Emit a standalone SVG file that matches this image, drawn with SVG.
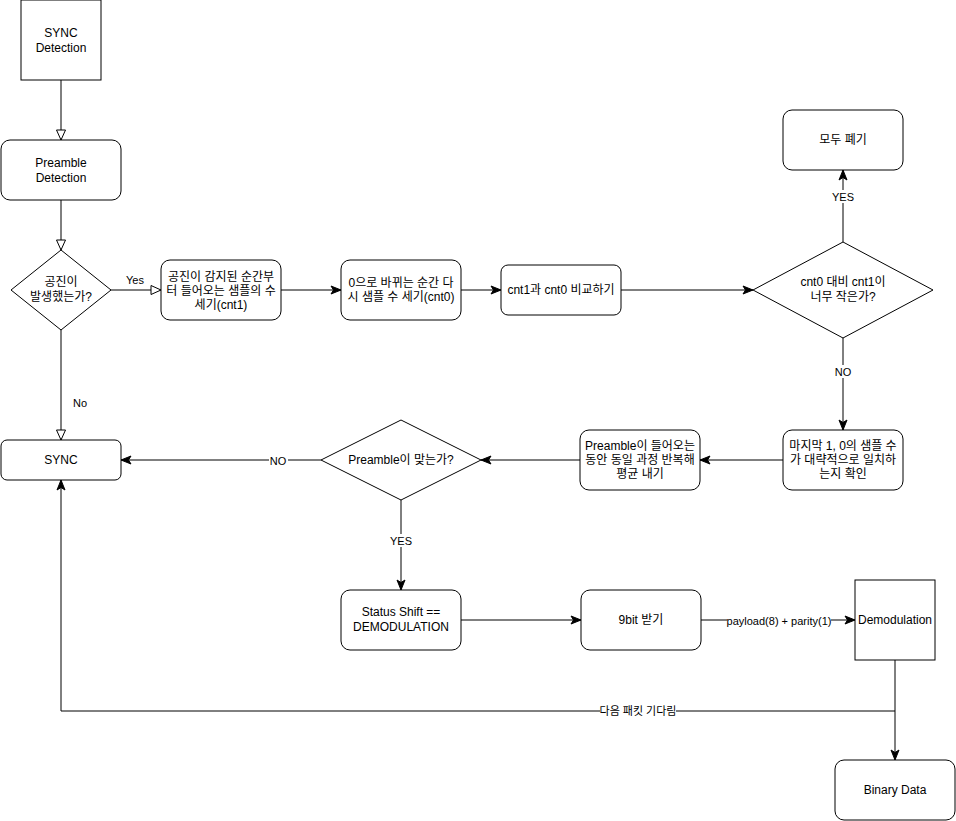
<svg xmlns="http://www.w3.org/2000/svg" width="956" height="821" viewBox="0 0 956 821">
<style>
.n{fill:#fff;stroke:#000;stroke-width:1}
.t{font-family:"Liberation Sans","Noto Sans CJK KR",sans-serif;font-size:12px;fill:#000;text-anchor:middle}
.l{font-family:"Liberation Sans","Noto Sans CJK KR",sans-serif;font-size:11px;fill:#000;text-anchor:middle}
.e{fill:none;stroke:#000;stroke-width:1}
.lb{fill:#fff}
</style>
<defs>
<marker id="open" markerUnits="userSpaceOnUse" markerWidth="12" markerHeight="12" viewBox="0 0 12 12" refX="11" refY="6" orient="auto">
<path d="M1,1.5 L11,6 L1,10.5 Z" fill="#fff" stroke="#000" stroke-width="1"/>
</marker>
<marker id="fill" markerUnits="userSpaceOnUse" markerWidth="12" markerHeight="12" viewBox="0 0 12 12" refX="11" refY="6" orient="auto">
<path d="M1,2 L11,6 L1,10 L3.5,6 Z" fill="#000" stroke="#000" stroke-width="1"/>
</marker>
</defs>
<rect width="956" height="821" fill="#fff"/>
<g id="connectors">
<path class="e" d="M61,80 V140" marker-end="url(#open)"/>
<path class="e" d="M61,200 V250" marker-end="url(#open)"/>
<path class="e" d="M111,290 H161" marker-end="url(#open)"/>
<path class="e" d="M61,330 V440" marker-end="url(#open)"/>
<path class="e" d="M281,290 H341" marker-end="url(#fill)"/>
<path class="e" d="M461,290 H501" marker-end="url(#fill)"/>
<path class="e" d="M621,290 H753" marker-end="url(#fill)"/>
<path class="e" d="M843,242 V170" marker-end="url(#fill)"/>
<path class="e" d="M843,338 V430" marker-end="url(#fill)"/>
<path class="e" d="M783,460 H700" marker-end="url(#fill)"/>
<path class="e" d="M580,460 H481" marker-end="url(#fill)"/>
<path class="e" d="M321,460 H121" marker-end="url(#fill)"/>
<path class="e" d="M401,500 V590" marker-end="url(#fill)"/>
<path class="e" d="M461,620 H581" marker-end="url(#fill)"/>
<path class="e" d="M701,620 H855" marker-end="url(#fill)"/>
<path class="e" d="M895,660 V760" marker-end="url(#fill)"/>
<path class="e" d="M895,711 H61 V480" marker-end="url(#fill)"/>
<text class="l" x="135" y="284">Yes</text>
<text class="l" x="80" y="407">No</text>
<rect class="lb" x="833" y="190" width="20" height="13"/>
<text class="l" x="843" y="201">YES</text>
<rect class="lb" x="834" y="365" width="18" height="13"/>
<text class="l" x="843" y="376">NO</text>
<rect class="lb" x="269" y="454" width="19" height="13"/>
<text class="l" x="278" y="465">NO</text>
<rect class="lb" x="389" y="534" width="24" height="13"/>
<text class="l" x="401" y="545">YES</text>
<rect class="lb" x="727" y="614" width="104" height="13"/>
<text class="l" x="779" y="625">payload(8) + parity(1)</text>
<rect class="lb" x="600" y="704" width="76" height="14"/>
<text class="l" x="638" y="715">다음 패킷 기다림</text>
</g>
<g id="sync-detection">
<rect class="n" x="21" y="0" width="80" height="80"/>
<text class="t" x="61" y="37">SYNC</text>
<text class="t" x="61" y="52">Detection</text>
</g>
<g id="preamble-detection">
<rect class="n" x="1" y="140" width="120" height="60" rx="9"/>
<text class="t" x="61" y="167">Preamble</text>
<text class="t" x="61" y="182">Detection</text>
</g>
<g id="resonance-decision">
<path class="n" d="M61,250 L111,290 L61,330 L11,290 Z"/>
<text class="t" x="61" y="286">공진이</text>
<text class="t" x="61" y="301">발생했는가?</text>
</g>
<g id="count-cnt1">
<rect class="n" x="161" y="260" width="120" height="60" rx="9"/>
<text class="t" x="221" y="281">공진이 감지된 순간부</text>
<text class="t" x="221" y="295">터 들어오는 샘플의 수</text>
<text class="t" x="221" y="309">세기(cnt1)</text>
</g>
<g id="count-cnt0">
<rect class="n" x="341" y="260" width="120" height="60" rx="9"/>
<text class="t" x="401" y="287">0으로 바뀌는 순간 다</text>
<text class="t" x="401" y="301">시 샘플 수 세기(cnt0)</text>
</g>
<g id="compare">
<rect class="n" x="501" y="265" width="120" height="50" rx="7"/>
<text class="t" x="561" y="294">cnt1과 cnt0 비교하기</text>
</g>
<g id="ratio-decision">
<path class="n" d="M843,242 L933,290 L843,338 L753,290 Z"/>
<text class="t" x="843" y="286">cnt0 대비 cnt1이</text>
<text class="t" x="843" y="301">너무 작은가?</text>
</g>
<g id="discard">
<rect class="n" x="783" y="110" width="120" height="60" rx="9"/>
<text class="t" x="843" y="144">모두 폐기</text>
</g>
<g id="check-last">
<rect class="n" x="783" y="430" width="120" height="60" rx="9"/>
<text class="t" x="843" y="450">마지막 1, 0의 샘플 수</text>
<text class="t" x="843" y="464">가 대략적으로 일치하</text>
<text class="t" x="843" y="478">는지 확인</text>
</g>
<g id="average">
<rect class="n" x="580" y="430" width="120" height="60" rx="9"/>
<text class="t" x="640" y="450">Preamble이 들어오는</text>
<text class="t" x="640" y="464">동안 동일 과정 반복해</text>
<text class="t" x="640" y="478">평균 내기</text>
</g>
<g id="preamble-decision">
<path class="n" d="M401,420 L481,460 L401,500 L321,460 Z"/>
<text class="t" x="401" y="464">Preamble이 맞는가?</text>
</g>
<g id="sync">
<rect class="n" x="1" y="440" width="120" height="40" rx="6"/>
<text class="t" x="61" y="464">SYNC</text>
</g>
<g id="status-shift">
<rect class="n" x="341" y="590" width="120" height="60" rx="9"/>
<text class="t" x="401" y="616">Status Shift ==</text>
<text class="t" x="401" y="631">DEMODULATION</text>
</g>
<g id="receive-9bit">
<rect class="n" x="581" y="590" width="120" height="60" rx="9"/>
<text class="t" x="641" y="624">9bit 받기</text>
</g>
<g id="demodulation">
<rect class="n" x="855" y="580" width="80" height="80"/>
<text class="t" x="895" y="624">Demodulation</text>
</g>
<g id="binary-data">
<rect class="n" x="835" y="760" width="120" height="60" rx="9"/>
<text class="t" x="895" y="794">Binary Data</text>
</g>
</svg>
